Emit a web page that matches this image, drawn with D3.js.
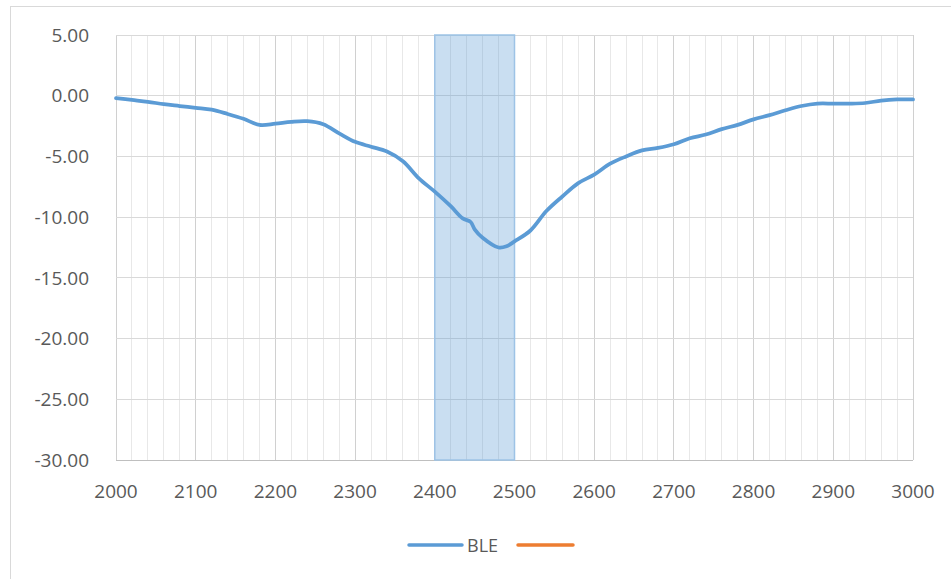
<!DOCTYPE html>
<html><head><meta charset="utf-8">
<script src="https://cdn.jsdelivr.net/npm/d3@7"></script>
<style>body{margin:0;background:#fff}svg{display:block}text{font-family:"Open Sans",sans-serif;fill:#595959}</style>
</head><body>
<svg id="c" width="951" height="579"></svg>
<script>
const freq = [2000,2020,2040,2060,2080,2100,2120,2140,2160,2180,2200,2220,2240,2260,2280,2300,2320,2340,2360,2380,2400,2420,2435,2445,2450,2460,2480,2490,2500,2520,2540,2560,2580,2600,2620,2640,2660,2680,2700,2720,2740,2760,2780,2800,2820,2840,2860,2880,2900,2920,2940,2960,2980,3000];
const ble = [-0.2,-0.35,-0.5,-0.7,-0.85,-1.0,-1.15,-1.5,-1.9,-2.4,-2.3,-2.15,-2.1,-2.35,-3.1,-3.8,-4.2,-4.6,-5.4,-6.8,-7.9,-9.1,-10.1,-10.4,-11.0,-11.7,-12.5,-12.4,-12.0,-11.1,-9.5,-8.3,-7.2,-6.5,-5.6,-5.0,-4.5,-4.3,-4.0,-3.5,-3.2,-2.75,-2.4,-1.95,-1.6,-1.2,-0.85,-0.65,-0.65,-0.65,-0.6,-0.4,-0.3,-0.3];
const band = [2400, 2500];
const yTicks = [5,0,-5,-10,-15,-20,-25,-30];
const xTicks = [2000,2100,2200,2300,2400,2500,2600,2700,2800,2900,3000];
const seriesNames = ["BLE", ""];
const seriesColors = ["#5b9bd5", "#ed7d31"];

const svg = d3.select("#c");
const x = d3.scaleLinear().domain([2000,3000]).range([116,913]);
const y = d3.scaleLinear().domain([5,-30]).range([35,460]);

svg.append("rect").attr("x",10.5).attr("y",6.5).attr("width",960).attr("height",600)
  .attr("fill","#fff").attr("stroke","#d9d9d9");

const minor = d3.range(2000,3001,20).filter(v=>v%100!==0);
svg.append("g").selectAll("line").data(minor).join("line")
  .attr("x1",d=>x(d)).attr("x2",d=>x(d)).attr("y1",y(5)).attr("y2",y(-30))
  .attr("stroke","#e8e8e8").attr("stroke-width",1).attr("shape-rendering","crispEdges");
svg.append("g").selectAll("line").data(xTicks).join("line")
  .attr("x1",d=>x(d)).attr("x2",d=>x(d)).attr("y1",y(5)).attr("y2",y(-30))
  .attr("stroke","#d0d0d0").attr("stroke-width",1).attr("shape-rendering","crispEdges");
svg.append("g").selectAll("line").data(yTicks).join("line")
  .attr("x1",x(2000)).attr("x2",x(3000)).attr("y1",d=>y(d)).attr("y2",d=>y(d))
  .attr("stroke",d=>d===-30?"#bfbfbf":"#d9d9d9").attr("stroke-width",1).attr("shape-rendering","crispEdges");

svg.append("rect").attr("x",x(band[0])).attr("y",y(5)).attr("width",x(band[1])-x(band[0])).attr("height",y(-30)-y(5))
  .attr("fill","#5b9bd5").attr("fill-opacity",0.33).attr("stroke","#9dc3e6").attr("stroke-width",1.5);

svg.append("g").selectAll("text").data(yTicks).join("text")
  .attr("x",89).attr("y",d=>y(d)).attr("dy","0.35em").attr("text-anchor","end")
  .attr("font-size",19).text(d=>d3.format(".2f")(d).replace("\u2212","-"));
svg.append("g").selectAll("text").data(xTicks).join("text")
  .attr("x",d=>x(d)).attr("y",498).attr("text-anchor","middle")
  .attr("font-size",19).text(d=>d);

const pts = freq.map((f,i)=>[f,ble[i]]);
svg.append("path").datum(pts)
  .attr("d",d3.line().x(d=>x(d[0])).y(d=>y(d[1])).curve(d3.curveCatmullRom.alpha(0.5)))
  .attr("fill","none").attr("stroke",seriesColors[0]).attr("stroke-width",3.75)
  .attr("stroke-linecap","round").attr("stroke-linejoin","round");

// legend
const lg = svg.append("g");
lg.append("line").attr("x1",409).attr("x2",462).attr("y1",545).attr("y2",545).attr("stroke",seriesColors[0]).attr("stroke-width",3.5).attr("stroke-linecap","round");
lg.append("text").attr("x",467).attr("y",552).attr("font-size",18).text(seriesNames[0]);
lg.append("line").attr("x1",518).attr("x2",573).attr("y1",545).attr("y2",545).attr("stroke",seriesColors[1]).attr("stroke-width",3.5).attr("stroke-linecap","round");
</script>
</body></html>
